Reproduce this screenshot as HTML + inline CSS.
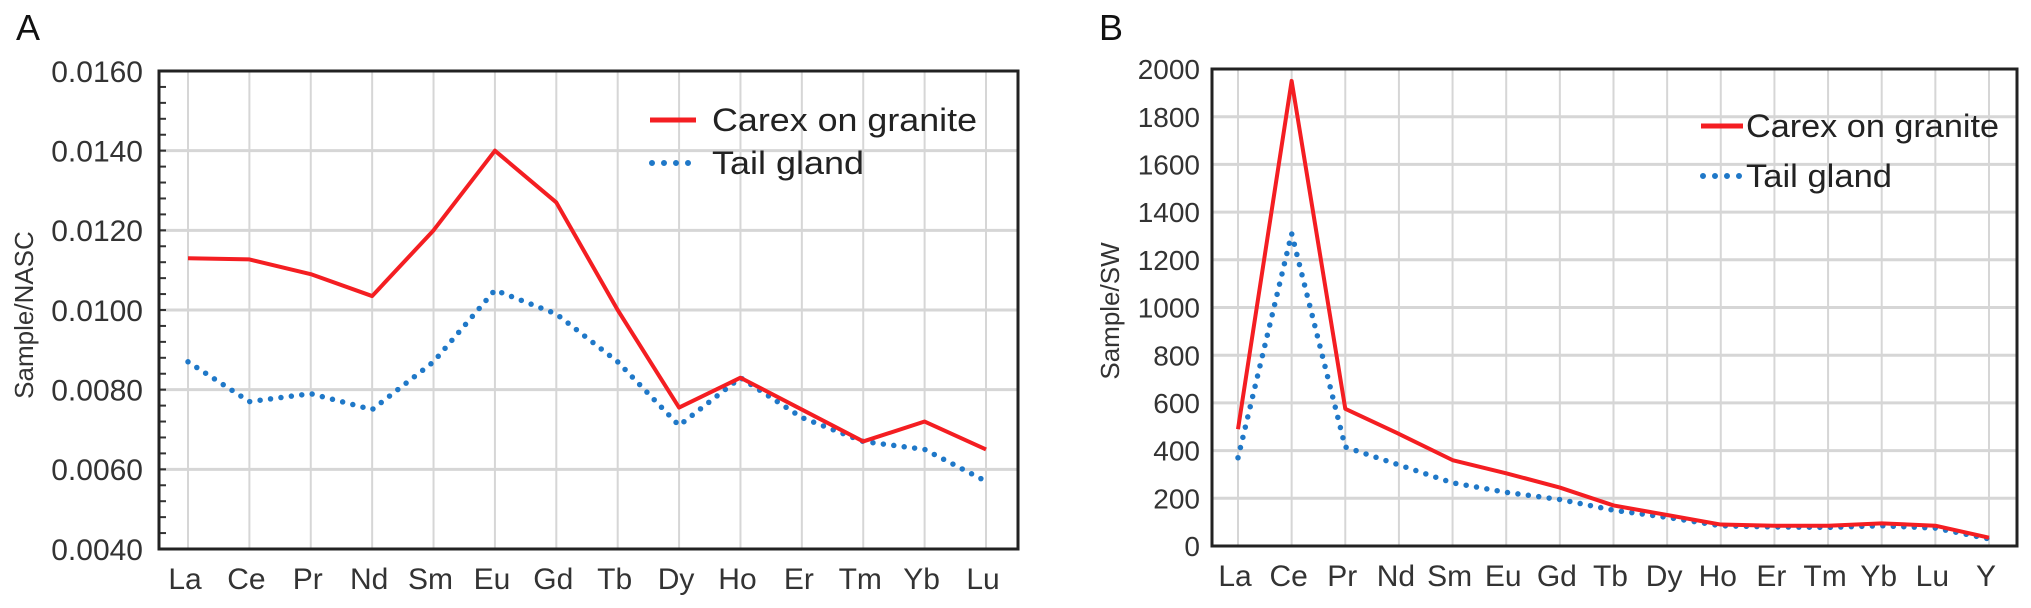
<!DOCTYPE html>
<html><head><meta charset="utf-8"><style>
html,body{margin:0;padding:0;background:#fff;}
svg{display:block;font-family:"Liberation Sans",Arial,sans-serif;}
</style></head><body>
<svg id="fig" width="2031" height="608" viewBox="0 0 2031 608">
<text x="16" y="40" font-size="36" fill="#111">A</text>
<text x="1099" y="40" font-size="36" fill="#111">B</text>
<g id="chartA"></g>
<g id="chartB"></g>
</svg>
<script>
const catsA = ["La","Ce","Pr","Nd","Sm","Eu","Gd","Tb","Dy","Ho","Er","Tm","Yb","Lu"];
const carexA = [0.0113,0.01127,0.0109,0.01035,0.0120,0.0140,0.0127,0.0100,0.00755,0.0083,0.0075,0.0067,0.0072,0.0065];
const tailA = [0.0087,0.0077,0.0079,0.0075,0.0087,0.0105,0.0099,0.0087,0.0071,0.0083,0.0073,0.0067,0.0065,0.0057];
const ticksA = [0.0040,0.0060,0.0080,0.0100,0.0120,0.0140,0.0160];
const tickLabelsA = ["0.0040","0.0060","0.0080","0.0100","0.0120","0.0140","0.0160"];

const catsB = ["La","Ce","Pr","Nd","Sm","Eu","Gd","Tb","Dy","Ho","Er","Tm","Yb","Lu","Y"];
const carexB = [490,1950,575,470,360,305,245,170,130,90,85,85,95,85,35];
const tailB = [370,1310,415,340,265,225,195,150,120,85,80,78,85,75,30];
const ticksB = [0,200,400,600,800,1000,1200,1400,1600,1800,2000];
const tickLabelsB = ["0","200","400","600","800","1000","1200","1400","1600","1800","2000"];

const NS = "http://www.w3.org/2000/svg";
function mk(parent, tag, attrs, text){
  const e = document.createElementNS(NS, tag);
  for (const k in attrs) e.setAttribute(k, attrs[k]);
  if (text !== undefined) e.textContent = text;
  parent.appendChild(e);
  return e;
}

function drawChart(g, cfg){
  const {L,T,R,B,cats,x0,x1,ymin,ymax,ticks,tickLabels,s1,s2,tickFont,tickRight,title,titleX,titleY,leg,minor,catFont} = cfg;
  const xs = i => x0 + (x1 - x0) * i / (cats.length - 1);
  const ys = v => B - (v - ymin) / (ymax - ymin) * (B - T);
  cats.forEach((c,i)=>{
    const l = mk(g,'line',{x1:xs(i),x2:xs(i),y1:T,y2:B,stroke:'#d6d6d6','stroke-width':2});
    
    
  });
  ticks.forEach((t,i)=>{
    const l = mk(g,'line',{x1:L,x2:R,y1:ys(t),y2:ys(t),stroke:'#d6d6d6','stroke-width':3});
    
    
    const tx = mk(g,'text',{x:tickRight,y:ys(t)+tickFont*0.36,'font-size':tickFont,'text-anchor':'end',fill:'#333'},tickLabels[i]);
    
    
  });
  if (minor){
    const step = (ticks[1]-ticks[0])/5;
    for (let v = ymin; v <= ymax + 1e-12; v += step){
      const l = mk(g,'line',{x1:L,x2:L+7,y1:ys(v),y2:ys(v),stroke:'#333','stroke-width':2});
      
      
    }
  }
  cats.forEach((c,i)=>{
    const tx = mk(g,'text',{x:xs(i)-3,y:B+40,'font-size':catFont,'text-anchor':'middle',fill:'#333'},c);
    
    
  });
  const p1 = s1.map((v,i)=>xs(i)+','+ys(v)).join(' ');
  const p2 = s2.map((v,i)=>xs(i)+','+ys(v)).join(' ');
  const blue = mk(g,'polyline',{points:p2,fill:'none',stroke:'#1f78c8','stroke-width':5.5,'stroke-linecap':'round','stroke-dasharray':'0 10.5','stroke-linejoin':'round'});
  
  
  const red = mk(g,'polyline',{points:p1,fill:'none',stroke:'#f41e22','stroke-width':4,'stroke-linejoin':'round'});
  
  
  const fr = mk(g,'rect',{x:L,y:T,width:R-L,height:B-T,fill:'none',stroke:'#222','stroke-width':3});
  
  
  const tt = mk(g,'text',{x:titleX,y:titleY,'font-size':26,'text-anchor':'middle',fill:'#333',transform:`rotate(-90 ${titleX} ${titleY})`,'dominant-baseline':'middle'},title);
  
  
  const lg = mk(g,'g',{});
  
  
  const e1 = mk(lg,'g',{});
  
  
  mk(e1,'line',{x1:leg.lx1,x2:leg.lx2,y1:leg.y1,y2:leg.y1,stroke:'#f41e22','stroke-width':5});
  mk(e1,'text',{x:leg.tx,y:leg.y1+11,'font-size':32,fill:'#222',textLength:leg.w1,lengthAdjust:'spacingAndGlyphs'},'Carex on granite');
  const e2 = mk(lg,'g',{});
  
  
  mk(e2,'line',{x1:leg.lx1+2,x2:leg.lx2,y1:leg.y2,y2:leg.y2,stroke:'#1f78c8','stroke-width':6,'stroke-linecap':'round','stroke-dasharray':'0 12'});
  mk(e2,'text',{x:leg.tx,y:leg.y2+11,'font-size':32,fill:'#222',textLength:leg.w2,lengthAdjust:'spacingAndGlyphs'},'Tail gland');
}

drawChart(document.getElementById('chartA'),{
  L:159,T:71,R:1018,B:549,cats:catsA,x0:188,x1:986,ymin:0.004,ymax:0.016,
  ticks:ticksA,tickLabels:tickLabelsA,s1:carexA,s2:tailA,tickFont:30,tickRight:143,
  title:'Sample/NASC',titleX:26,titleY:315,minor:true,catFont:30,
  leg:{lx1:650,lx2:696,tx:712,w1:265,w2:152,y1:120,y2:163}
});
drawChart(document.getElementById('chartB'),{
  L:1212,T:69,R:2017,B:546,cats:catsB,x0:1238,x1:1989,ymin:0,ymax:2000,
  ticks:ticksB,tickLabels:tickLabelsB,s1:carexB,s2:tailB,tickFont:28,tickRight:1200,
  title:'Sample/SW',titleX:1112,titleY:311,minor:false,catFont:30,
  leg:{lx1:1701,lx2:1743,tx:1746,w1:253,w2:146,y1:126,y2:176}
});
</script>
</body></html>
